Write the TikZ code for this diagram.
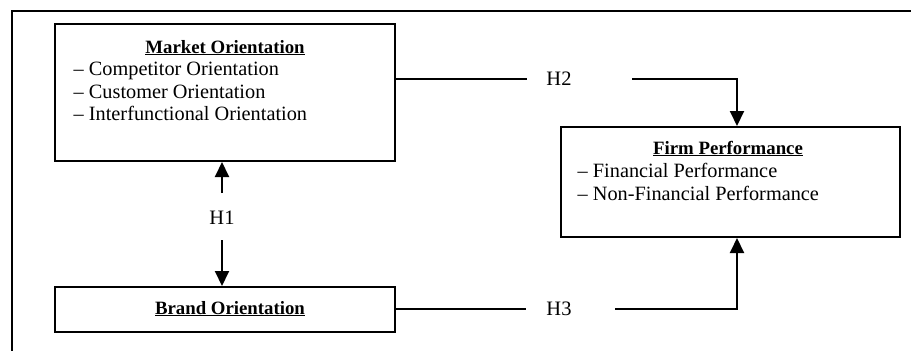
\documentclass[tikz,border=0pt]{standalone}
\usepackage{fontspec}
\setmainfont{Liberation Serif}
\usetikzlibrary{arrows.meta}
\begin{document}
\begin{tikzpicture}[x=1pt,y=-1pt,
  box/.style={draw, line width=2pt, inner sep=0pt},
  txt/.style={inner sep=0pt, anchor=base west, font=\fontsize{20.3}{24}\selectfont},
  ttl/.style={inner sep=0pt, anchor=base, font=\fontsize{18.8}{24}\selectfont\bfseries},
  hlab/.style={inner sep=0pt, font=\fontsize{20.5}{24}\selectfont},
  frame/.style={line width=2.5pt},
  conn/.style={line width=2pt},
  arr/.style={conn, -{Triangle[length=15pt,width=14pt]}}]
\useasboundingbox (0,0) rectangle (911,351);
% outer frame (top and left edges visible)
\draw[frame] (12,356) -- (12,11) -- (916,11);
% Market Orientation
\node[box, minimum width=340pt, minimum height=137pt] (mo) at (225,92.5) {};
\node[ttl] (mot) at (225,53) {\underline{Market Orientation}};
\node[txt] (mo1) at (73.5,75.5) {– Competitor Orientation};
\node[txt] (mo2) at (73.5,98) {– Customer Orientation};
\node[txt] (mo3) at (73.5,120.5) {– Interfunctional Orientation};
% Brand Orientation
\node[box, minimum width=340pt, minimum height=45pt] (bo) at (225,309.5) {};
\node[ttl] (bot) at (230,314) {\underline{Brand Orientation}};
% Firm Performance
\node[box, minimum width=339pt, minimum height=110pt] (fp) at (730.5,182) {};
\node[ttl] (fpt) at (728,154) {\underline{Firm Performance}};
\node[txt] (fp1) at (577.5,177.5) {– Financial Performance};
\node[txt] (fp2) at (577.5,200) {– Non-Financial Performance};
% hypothesis labels
\node[hlab] (h1) at (222,218) {H1};
\node[hlab] (h2) at (559,79) {H2};
\node[hlab] (h3) at (559,309) {H3};
% H1
\coordinate (h1a) at (222,193);
\coordinate (h1b) at (222,240);
\draw[arr] (h1a) -- (h1a |- mo.south);
\draw[arr] (h1b) -- (h1b |- bo.north);
% H2
\coordinate (h2a) at (527,79);
\coordinate (h2b) at (632,79);
\coordinate (h2c) at (737,79);
\draw[conn] (mo.east |- h2a) -- (h2a);
\draw[arr] (h2b) -- (h2c) -- (h2c |- fp.north);
% H3
\coordinate (h3a) at (526,309);
\coordinate (h3b) at (615,309);
\coordinate (h3c) at (737,309);
\draw[conn] (bo.east |- h3a) -- (h3a);
\draw[arr] (h3b) -- (h3c) -- (h3c |- fp.south);
\end{tikzpicture}
\end{document}
